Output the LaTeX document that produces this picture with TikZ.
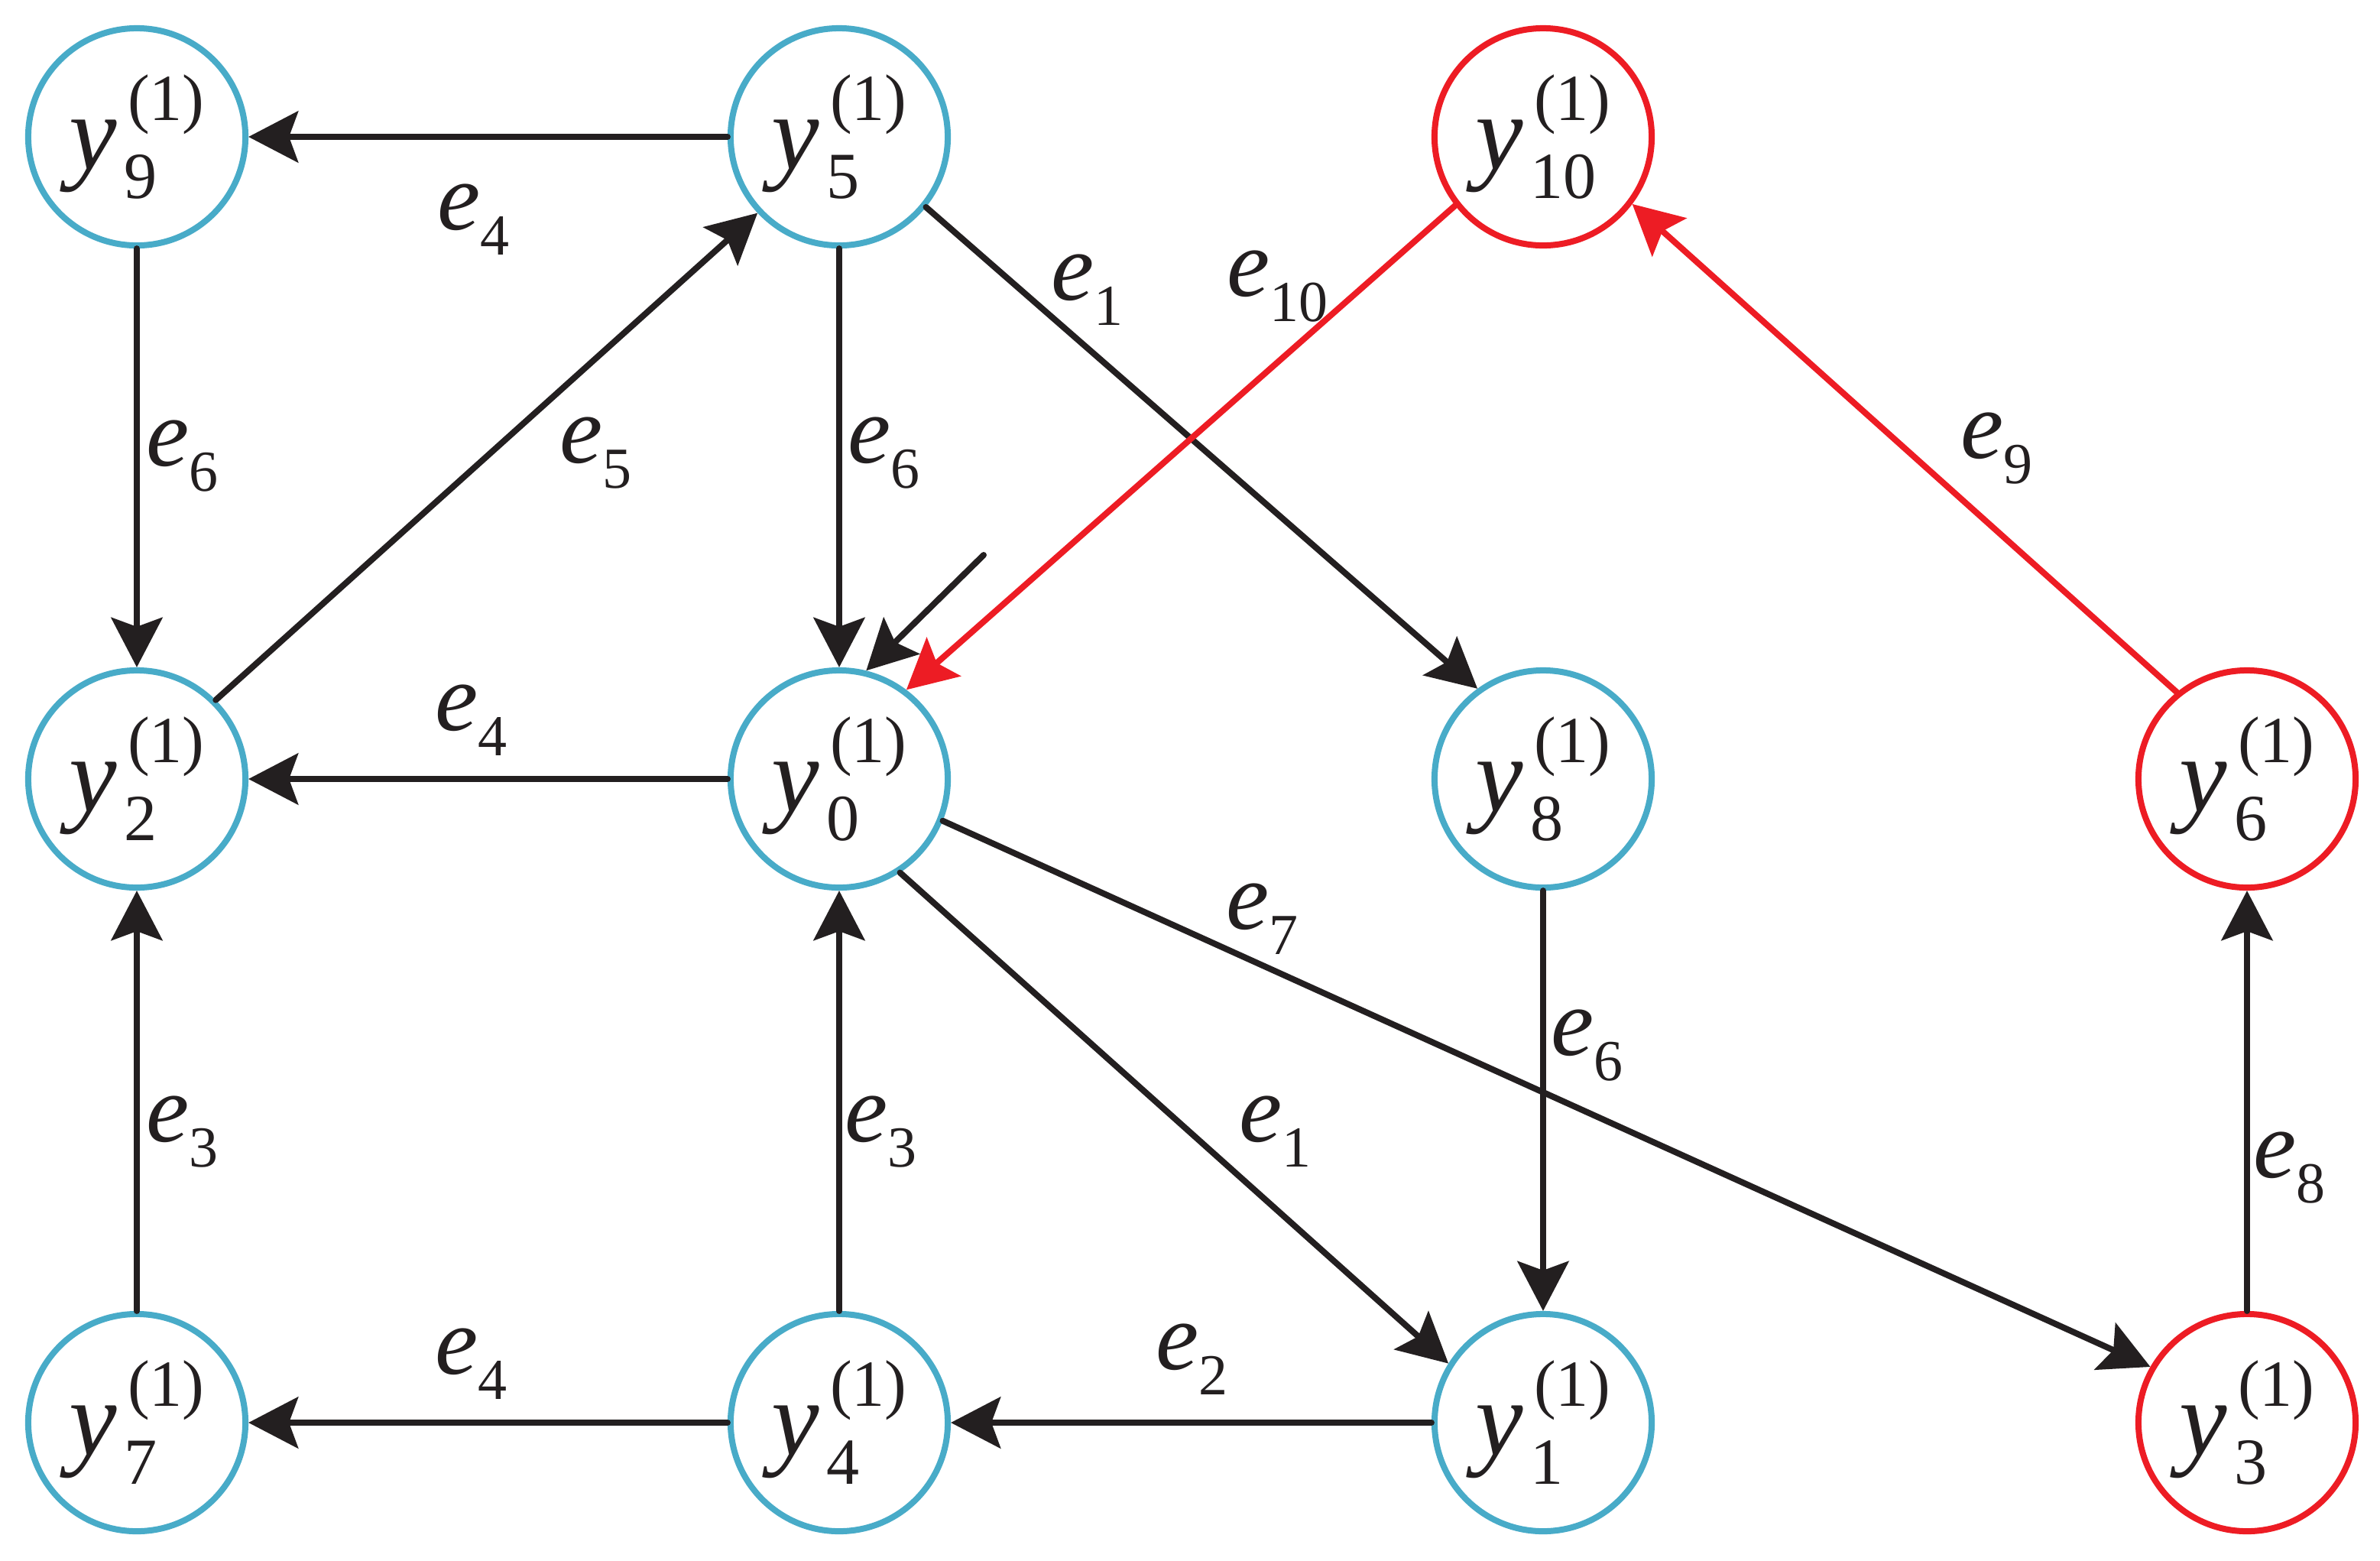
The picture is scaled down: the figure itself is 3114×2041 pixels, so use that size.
\documentclass[tikz,border=0pt]{standalone}
\usepackage{fontspec}
\setmainfont{Liberation Serif}
\usetikzlibrary{arrows.meta}
\definecolor{nblue}{RGB}{72,171,200}
\definecolor{nred}{RGB}{237,28,36}
\definecolor{ink}{RGB}{35,31,32}
\newcommand\nsubsz{\fontsize{24.5pt}{25pt}\selectfont}
\newcommand\yv[1]{{\fontsize{40pt}{42pt}\selectfont\textit{y}\makebox[0pt][l]{\kern4pt\raisebox{18.2pt}{\nsubsz(1)}}\makebox[0pt][l]{\kern2.8pt\raisebox{-10.8pt}{\nsubsz #1}}\hphantom{\kern4pt{\nsubsz(1)}}}}
\newcommand\el[1]{{\fontsize{36pt}{38pt}\selectfont\textit{e}\raisebox{-9.4pt}{\fontsize{21.6pt}{22pt}\selectfont #1}}}
\begin{document}
\begin{tikzpicture}[x=0.01cm,y=-0.01cm,
  vb/.style={circle,draw=nblue,line width=0.08cm,minimum size=2.84cm,inner sep=0pt,text=ink},
  vr/.style={vb,draw=nred},
  conn/.style={draw=ink,line width=0.08cm,line cap=round,-{Stealth[length=0.65cm,width=0.67cm,inset=0.12cm]}},
  rconn/.style={conn,draw=nred},
  lab/.style={anchor=base west,inner sep=0pt,text=ink}]
\useasboundingbox (0,0) rectangle (3114,2041);
\node[vb] (y9) at (179,179) {\yv{9}};
\node[vb] (y5) at (1098,179) {\yv{5}};
\node[vr] (y10) at (2019,179) {\yv{10}};
\node[vb] (y2) at (179,1019) {\yv{2}};
\node[vb] (y0) at (1098,1019) {\yv{0}};
\node[vb] (y8) at (2019,1019) {\yv{8}};
\node[vr] (y6) at (2940,1019) {\yv{6}};
\node[vb] (y7) at (179,1861) {\yv{7}};
\node[vb] (y4) at (1098,1861) {\yv{4}};
\node[vb] (y1) at (2019,1861) {\yv{1}};
\node[vr] (y3) at (2940,1861) {\yv{3}};
\draw[conn] (y5) -- (y9);
\draw[conn] (y9) -- (y2);
\draw[conn] (y2.45.6) -- (y5.223.4);
\draw[conn] (y5) -- (y0);
\draw[conn] (y5.321.5) -- (y8.126);
\draw[rconn] (y10.218.6) -- (y0.53.6);
\draw[rconn] (y6.129.5) -- (y10.323);
\draw[conn] (y0) -- (y2);
\draw[conn] (y0.303.5) -- (y1.148);
\draw[conn] (y0.338.3) -- (y3.150);
\draw[conn] (y8) -- (y1);
\draw[conn] (y3) -- (y6);
\draw[conn] (y7) -- (y2);
\draw[conn] (y4) -- (y0);
\draw[conn] (y1) -- (y4);
\draw[conn] (y4) -- (y7);
\coordinate (s0) at (1287,726);
\draw[conn] (s0) -- (y0.76);
\node[lab] (l1) at (572,300) {\el{4}};
\node[lab] (l2) at (191,609) {\el{6}};
\node[lab] (l3) at (732,605) {\el{5}};
\node[lab] (l4) at (1109,605) {\el{6}};
\node[lab] (l5) at (1375,392) {\el{1}};
\node[lab] (l6) at (1605,387) {\el{10}};
\node[lab] (l7) at (2565,599) {\el{9}};
\node[lab] (l8) at (569,955) {\el{4}};
\node[lab] (l9) at (1604,1215) {\el{7}};
\node[lab] (l10) at (2029,1380) {\el{6}};
\node[lab] (l11) at (1621,1493) {\el{1}};
\node[lab] (l12) at (2948,1540) {\el{8}};
\node[lab] (l13) at (191,1493) {\el{3}};
\node[lab] (l14) at (1105,1493) {\el{3}};
\node[lab] (l15) at (1512,1791) {\el{2}};
\node[lab] (l16) at (569,1797) {\el{4}};
\end{tikzpicture}
\end{document}
